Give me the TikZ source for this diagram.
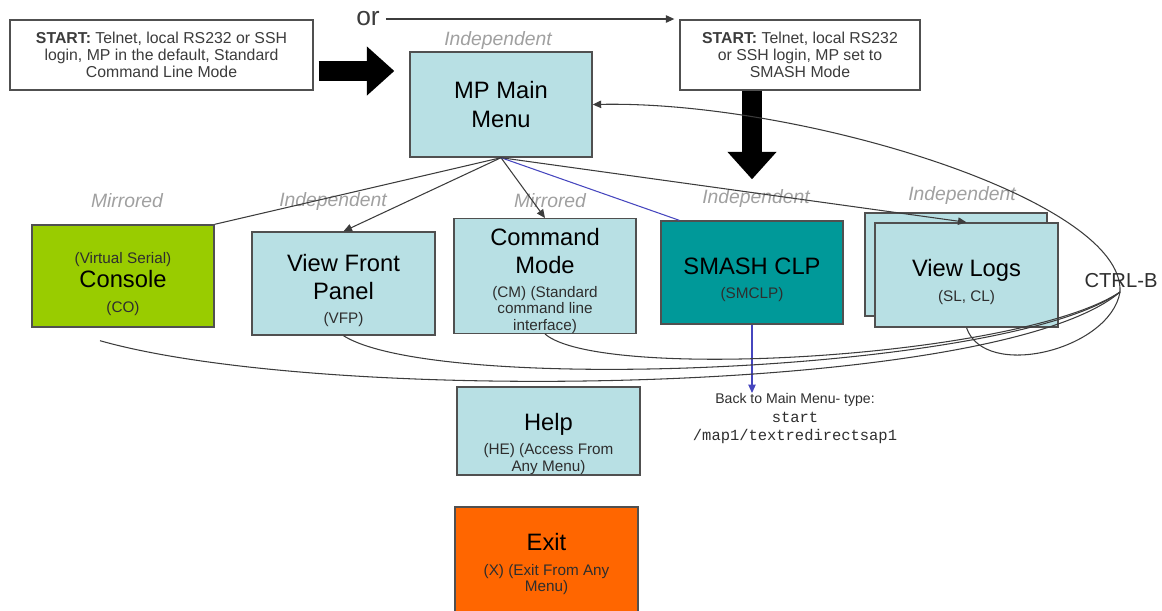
\documentclass[tikz,border=0pt]{standalone}
\usepackage{fontspec}
\setmainfont{Liberation Sans}
\setmonofont{Liberation Mono}
\usetikzlibrary{arrows.meta}
\definecolor{menu}{HTML}{B8E0E4}
\definecolor{console}{HTML}{99CC00}
\definecolor{smash}{HTML}{009999}
\definecolor{exitbox}{HTML}{FF6600}
\definecolor{edge}{HTML}{505050}
\definecolor{access}{HTML}{A0A0A0}
\definecolor{wire}{HTML}{3C3C3C}
\definecolor{smashwire}{HTML}{4646BE}
\definecolor{note}{HTML}{2E2E2E}
\newcommand{\mpbig}{\fontsize{13.5}{16}\selectfont}
\newcommand{\mpsmall}{\fontsize{8.7}{9.3}\selectfont}
\newcommand{\mpsub}{\mpsmall\leavevmode\color{note}}
\newcommand{\mpstart}{\fontsize{9}{9.8}\selectfont}
\newcommand{\mpor}{\fontsize{15}{18}\selectfont}
\newcommand{\mpaccess}{\fontsize{11}{13}\selectfont\itshape}
\newcommand{\mpnote}{\fontsize{8}{10.5}\selectfont}
\newcommand{\mpctrl}{\fontsize{11.5}{14}\selectfont}
\newcommand{\mptext}[3][17.8pt]{{\mpbig\rule{0pt}{#1}#2\par}\vspace{4.5pt}{\mpsub #3\par}}
\tikzset{menu/.style={draw=edge, fill=menu, line width=0.8pt, minimum width=3.64cm, minimum height=2.06cm, text width=3.5cm, align=flush center, inner sep=0pt}}
\tikzset{console/.style={menu, fill=console}}
\tikzset{smash/.style={menu, fill=smash}}
\tikzset{exitbox/.style={menu, fill=exitbox}}
\tikzset{startbox/.style={draw=edge, fill=white, line width=0.8pt, align=center, font=\mpstart, text=wire, minimum height=1.4cm, inner sep=0pt}}
\tikzset{accesslbl/.style={text=access, font=\mpaccess}}
\tikzset{wire/.style={draw=wire, line width=0.6pt}}
\tikzset{bigarrow/.style={line width=11pt, -{Triangle[length=0.55cm,width=0.95cm]}}}

\begin{document}
\begin{tikzpicture}[x=0.02cm, y=0.02cm, >={Triangle[length=1.7mm,width=1.5mm]}]
    \useasboundingbox (0,0) rectangle (1162,-610);

    % entry points
    \node[startbox, minimum width=6.06cm] (start1) at (161.5,-55) {\textbf{START:} Telnet, local RS232 or SSH\\login, MP in the default, Standard\\Command Line Mode};
    \node[font=\mpor, text=wire] (or) at (368,-19) {or};
    \node[startbox, minimum width=4.8cm] (start2) at (800,-55) {\textbf{START:} Telnet, local RS232\\or SSH login, MP set to\\SMASH Mode};

    \node[accesslbl] (acc0) at (498,-40) {Independent};
    \node[menu, minimum height=2.1cm] (main) at (501,-104.5) {{\mpbig MP Main\\Menu\par}};

    % menus
    \node[accesslbl] (acc1) at (127,-201) {Mirrored};
    \node[accesslbl] (acc2) at (333,-201) {Independent};
    \node[accesslbl] (acc3) at (550,-201) {Mirrored};
    \node[accesslbl] (acc4) at (756,-198) {Independent};
    \node[accesslbl] (acc5) at (962,-195) {Independent};

    \node[console, minimum height=2.04cm] (console) at (123,-276) {{\mpsub\rule{0pt}{15pt}(Virtual Serial)\par}\vspace{-1.8pt}{\mpbig Console\par}\vspace{4.5pt}{\mpsub (CO)\par}};
    \node[menu, minimum width=3.66cm] (vfp) at (343.5,-283.5) {\mptext{View Front\\Panel}{(VFP)}};
    \node[menu, minimum height=2.1cm] (cmd) at (545,-276) {\mptext[15pt]{Command\\Mode}{(CM) (Standard\\command line\\interface)}};
    \node[smash] (smash) at (752,-272.5) {\mptext{SMASH CLP}{(SMCLP)}};
    \node[menu] (logsback) at (956,-264.5) {};
    \node[menu, minimum width=3.66cm, minimum height=2.08cm] (logs) at (966.5,-275) {\mptext{View Logs}{(SL, CL)}};

    \node[menu, minimum width=3.66cm, minimum height=1.76cm] (help) at (548.5,-431) {\mptext[24.6pt]{Help}{(HE) (Access From\\Any Menu)}};
    \node[exitbox, minimum width=3.66cm, minimum height=2.1cm] (exit) at (546.5,-559.5) {\mptext[15pt]{Exit}{(X) (Exit From Any\\Menu)}};

    \node[align=center, font=\mpnote, text=note, inner sep=0pt, anchor=north] (back) at (795,-393) {Back to Main Menu- type:\\\texttt{\fontsize{8.8}{10}\selectfont start}\\\texttt{\fontsize{8.8}{10}\selectfont /map1/textredirectsap1}};

    \coordinate (ctrlb) at (1120,-292);

    \draw[bigarrow, shorten <=0.1cm, shorten >=0.3cm] ([yshift=-0.32cm]start1.east) -- ([yshift=-0.32cm]start1.east -| main.west);
    \draw[wire,->,shorten >=0.1cm] (or.east) -- (or.east -| start2.west);
    \draw[bigarrow, shorten >=0.82cm] (start2.south -| smash.north) -- (smash.north);

    \draw[wire] (main.south) -- (console.north east);
    \draw[wire,->] (main.south) -- (vfp.north);
    \draw[wire,->] (main.south) -- (cmd.north);
    \draw[wire, draw=smashwire] (main.south) -- ([xshift=0.38cm]smash.north west);
    \draw[wire,->] (main.south) -- (logs.north);
    \draw[wire, draw=smashwire, ->] (smash.south) -- (smash.south |- back.north);

    % CTRL-B back to the main menu
    \draw[wire] ([xshift=-0.46cm,yshift=-0.26cm]console.south) .. controls +(230,-65) and +(-120,-103) .. (ctrlb);
    \draw[wire] (vfp.south) .. controls +(95,-60) and +(-110,-80) .. (ctrlb);
    \draw[wire] (cmd.south) .. controls +(55,-48) and +(-100,-66) .. (ctrlb);
    \draw[wire] (logs.south) .. controls +(18,-53) and +(-10,-58) .. (ctrlb);
    \draw[wire,->] (ctrlb) .. controls +(5,92) and +(208,4) .. (main.east);
    \node[font=\mpctrl, text=note] (ctrllbl) at (1121,-281) {CTRL-B};
\end{tikzpicture}
\end{document}
